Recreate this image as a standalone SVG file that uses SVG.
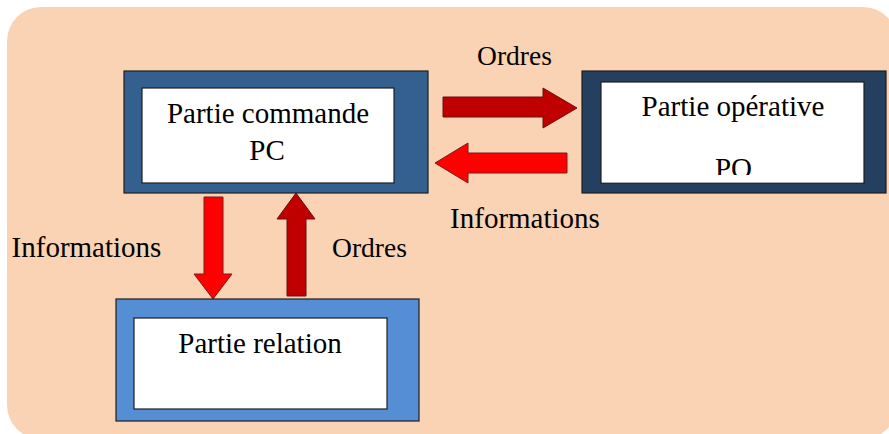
<svg xmlns="http://www.w3.org/2000/svg" width="889" height="434" viewBox="0 0 889 434">
<defs>
<style>
.outer{stroke:#1f1f1f;stroke-width:1.2}
.inner{fill:#fff;stroke:#1f1f1f;stroke-width:1.2}
.ord{fill:#C00000;stroke:#6b1010;stroke-width:1}
.inf{fill:#FF0000;stroke:#7a1a1a;stroke-width:1}
text{font-family:"Liberation Serif",serif;font-size:29px;fill:#000;text-anchor:middle}
</style>
</defs>
<rect x="7" y="7" width="890" height="432" rx="34" ry="34" fill="#F9D3B4"/>
<g id="connectors">
<polygon class="ord" points="443,97 543,97 543,88 577,108 543,128 543,117 443,117"/>
<polygon class="inf" points="567,153 468,153 468,143 435,163 468,183 468,173 567,173"/>
<polygon class="inf" points="204,197 223,197 223,274 232,274 213,299 194,274 204,274"/>
<polygon class="ord" points="287,296 306,296 306,219 315,219 296,193 277,219 287,219"/>
<text x="514.5" y="65" font-family="Liberation Serif, serif" style="font-size:27.5px">Ordres</text>
<text x="525" y="228" font-family="Liberation Serif, serif">Informations</text>
<text x="86.5" y="257" font-family="Liberation Serif, serif">Informations</text>
<text x="369.5" y="257" font-family="Liberation Serif, serif" style="font-size:27.5px">Ordres</text>
</g>
<g id="pc">
<rect class="outer" x="124" y="71" width="304" height="122" fill="#34608F"/>
<rect class="inner" x="142" y="88" width="252" height="95"/>
<text x="268" y="123" font-family="Liberation Serif, serif">Partie commande</text>
<text x="267" y="160" font-family="Liberation Serif, serif">PC</text>
</g>
<g id="po">
<rect class="outer" x="582" y="71" width="304" height="122" fill="#243F60"/>
<rect class="inner" x="601" y="82" width="263" height="101"/>
<text x="733" y="116" font-family="Liberation Serif, serif">Partie opérative</text>
<text x="733.5" y="178" font-family="Liberation Serif, serif">PO</text>
<rect x="602" y="175" width="261" height="7.4" fill="#fff"/>
</g>
<g id="pr">
<rect class="outer" x="116" y="299" width="303" height="122" fill="#558ED5"/>
<rect class="inner" x="134" y="318" width="253" height="91"/>
<text x="260" y="353" font-family="Liberation Serif, serif">Partie relation</text>
</g>
</svg>
